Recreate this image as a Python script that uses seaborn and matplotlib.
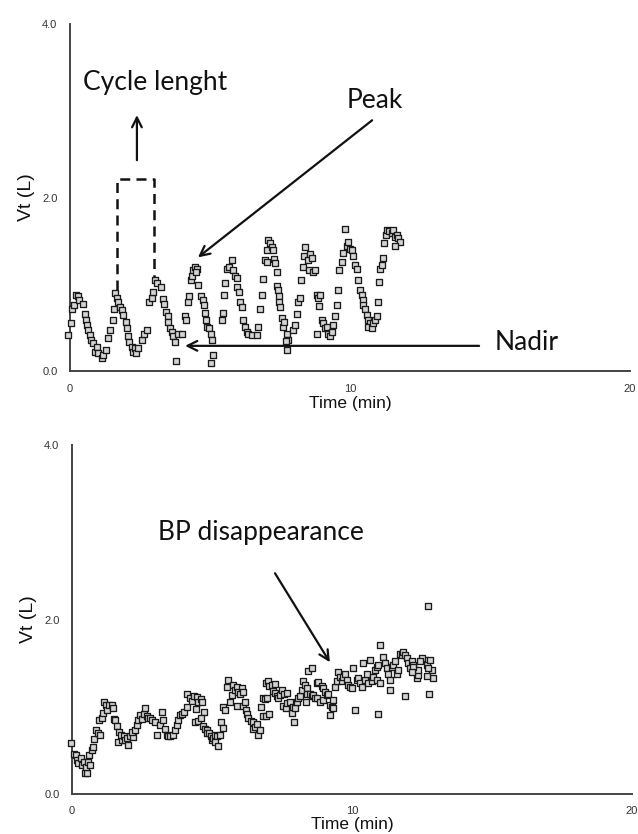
import matplotlib
matplotlib.use("Agg")
import matplotlib.pyplot as plt
import seaborn as sns
import pandas as pd

# tidal volume, periodic breathing (top)
top_t = [-0.06, 0.02, 0.06, 0.14, 0.21, 0.29, 0.32, 0.45, 0.54, 0.57, 0.62, 0.65, 0.71, 0.74, 0.83, 0.89,
         0.98, 1.00, 1.13, 1.19, 1.29, 1.37, 1.43, 1.52, 1.57, 1.61, 1.69, 1.73, 1.79, 1.85, 1.90, 2.00,
         2.02, 2.08, 2.12, 2.20, 2.26, 2.32, 2.36, 2.44, 2.56, 2.64, 2.76, 2.83, 2.92, 2.98, 3.04, 3.12,
         3.25, 3.31, 3.37, 3.43, 3.49, 3.51, 3.57, 3.63, 3.69, 3.75, 3.79, 3.87, 3.99,
         4.11, 4.14, 4.23, 4.26, 4.32, 4.35, 4.38, 4.46, 4.52, 4.50, 4.58, 4.67, 4.74, 4.79, 4.82, 4.86,
         4.90, 4.98, 5.02, 5.06, 5.12, 5.02,
         5.42, 5.45, 5.50, 5.54, 5.60, 5.69, 5.77, 5.83, 5.89, 5.95, 5.98, 6.05, 6.07, 6.13, 6.17, 6.25,
         6.31, 6.37, 6.49, 6.67, 6.73,
         6.79, 6.85, 6.90, 6.96, 7.02, 7.05, 7.08, 7.14, 7.20, 7.26, 7.30, 7.32, 7.38, 7.40, 7.43, 7.46,
         7.48, 7.50, 7.56, 7.62, 7.64, 7.74, 7.80, 7.71, 7.76,
         7.95, 8.04, 8.10, 8.15, 8.20, 8.24, 8.31, 8.36, 8.39, 8.51, 8.57, 8.63, 8.55, 8.69, 8.75, 8.81,
         8.87, 8.93, 8.90, 8.81, 8.99, 9.05, 9.11, 9.17, 9.23, 9.29, 9.35, 9.40, 9.46, 9.52, 9.56,
         9.62, 9.70, 9.76, 9.82, 9.88, 9.94, 10.00, 10.06, 10.12, 10.18, 10.24, 10.30, 10.36, 10.42, 10.45,
         10.48, 10.54, 10.60, 10.65, 10.71, 10.65, 10.77, 10.83, 10.89, 10.95, 11.01, 11.05, 11.07, 11.13,
         11.17, 11.21, 11.29, 11.33, 11.40, 11.49, 11.55, 11.61, 11.67, 11.73, 11.79, 11.60]
top_v = [0.42, 0.55, 0.72, 0.76, 0.88, 0.86, 0.82, 0.77, 0.66, 0.59, 0.53, 0.47, 0.41, 0.36, 0.32, 0.22,
         0.28, 0.21, 0.15, 0.19, 0.24, 0.38, 0.47, 0.59, 0.72, 0.90, 0.84, 0.80, 0.74, 0.70, 0.64, 0.56,
         0.49, 0.40, 0.34, 0.28, 0.22, 0.26, 0.21, 0.26, 0.36, 0.43, 0.47, 0.80, 0.84, 0.91, 1.05, 1.01,
         0.97, 0.83, 0.77, 0.68, 0.63, 0.57, 0.49, 0.45, 0.40, 0.34, 0.11, 0.43, 0.43,
         0.63, 0.59, 0.80, 0.87, 1.05, 1.10, 1.16, 1.20, 1.18, 1.14, 0.99, 0.87, 0.82, 0.76, 0.67, 0.59,
         0.51, 0.49, 0.43, 0.36, 0.18, 0.09,
         0.59, 0.67, 0.88, 1.01, 1.18, 1.20, 1.28, 1.16, 1.09, 1.07, 0.97, 0.91, 0.80, 0.74, 0.59, 0.51,
         0.45, 0.43, 0.41, 0.41, 0.51,
         0.72, 0.88, 1.06, 1.28, 1.26, 1.39, 1.51, 1.47, 1.43, 1.39, 1.29, 1.25, 1.14, 0.98, 0.93, 0.86,
         0.80, 0.74, 0.61, 0.51, 0.57, 0.43, 0.36, 0.35, 0.24,
         0.47, 0.53, 0.66, 0.80, 0.84, 1.05, 1.20, 1.32, 1.43, 1.28, 1.35, 1.30, 1.16, 1.14, 1.16, 0.88,
         0.84, 0.88, 0.75, 0.43, 0.59, 0.55, 0.49, 0.51, 0.43, 0.40, 0.45, 0.53, 0.63, 0.76, 0.93,
         1.16, 1.26, 1.36, 1.64, 1.44, 1.49, 1.41, 1.39, 1.32, 1.22, 1.18, 1.05, 0.93, 0.88, 0.82,
         0.76, 0.72, 0.65, 0.59, 0.55, 0.51, 0.49, 0.55, 0.59, 0.63, 0.80, 1.03, 1.18, 1.22,
         1.30, 1.47, 1.57, 1.63, 1.61, 1.59, 1.63, 1.55, 1.57, 1.53, 1.49, 1.44]

# tidal volume after BP disappearance (bottom)
bot_t = [-0.05, 0.07, 0.14, 0.19, 0.23, 0.31, 0.35, 0.43, 0.46, 0.55, 0.50, 0.58, 0.64, 0.62, 0.70, 0.76,
         0.79, 0.86, 0.94, 1.00, 0.98, 1.06, 1.10, 1.14, 1.21, 1.26, 1.33, 1.42, 1.48, 1.50, 1.54, 1.62,
         1.69, 1.65, 1.77, 1.74, 1.86, 1.89, 1.95, 2.01, 2.07, 2.17, 2.13, 2.25, 2.31, 2.37, 2.43, 2.49,
         2.57, 2.61, 2.67, 2.73, 2.79, 2.85, 2.96, 3.05, 3.14, 3.20, 3.26, 3.32, 3.38, 3.44, 3.50, 3.62,
         3.68, 3.74, 3.80, 3.86, 3.92, 4.00, 4.10, 4.12,
         4.21, 4.27, 4.36, 4.45, 4.51, 4.60, 4.63, 4.43, 4.71, 4.39, 4.51, 4.60, 4.67, 4.75, 4.81, 4.83,
         4.90, 4.95, 4.99, 5.05, 5.11, 5.17, 5.29, 5.11, 5.23, 5.31, 5.38, 5.38, 5.46, 5.52, 5.58, 5.64,
         5.70, 5.76, 5.82, 5.88, 5.94, 6.06, 6.00, 6.10, 5.88, 6.12, 6.18, 6.21, 6.26, 6.30, 6.38, 6.45,
         6.48, 6.54, 6.62, 6.65, 6.71, 6.74, 6.81, 6.89, 6.98, 6.81, 6.93, 7.05, 6.93, 7.01, 7.05, 7.13,
         7.25, 7.19, 7.25, 7.31, 7.37, 7.43, 7.49, 7.57, 7.67, 7.55, 7.64, 7.69, 7.79, 7.85, 7.88, 7.96,
         7.93, 8.02, 8.08, 8.14, 8.20, 8.26, 8.32, 8.38, 8.40, 8.36, 8.44,
         8.50, 8.56, 8.62, 8.68, 8.74, 8.56, 8.74, 8.80, 8.92, 8.98, 8.86, 8.98, 9.04, 9.10, 9.15, 9.21,
         9.27, 9.33, 9.21, 9.31, 9.39, 9.45, 9.51, 9.57, 9.63, 9.69, 9.75, 9.81, 9.87, 9.93, 9.99, 10.05,
         10.11, 10.17, 10.23, 10.29, 10.35, 10.40, 10.46, 10.52, 10.58, 10.64, 10.70, 10.76, 10.82, 10.88,
         10.94, 11.00, 10.90, 11.00, 10.94, 11.12, 11.18, 11.24, 11.30, 11.36, 11.36, 11.42, 11.48, 11.54,
         11.60, 11.65, 11.71, 11.77, 11.83, 11.89, 11.95, 11.89, 12.01, 12.07, 12.13, 12.19, 12.25, 12.31,
         12.37, 12.73, 12.85, 12.90, 12.76, 12.61, 12.49, 12.43, 12.37, 12.19, 12.13, 12.67, 12.79, 12.73,
         12.67]
bot_v = [0.58, 0.46, 0.45, 0.39, 0.35, 0.41, 0.33, 0.37, 0.24, 0.24, 0.31, 0.37, 0.33, 0.45, 0.50, 0.54,
         0.63, 0.73, 0.70, 0.68, 0.85, 0.87, 0.93, 1.06, 1.02, 0.96, 1.02, 1.02, 0.98, 0.86, 0.85, 0.78,
         0.71, 0.60, 0.62, 0.68, 0.66, 0.62, 0.64, 0.56, 0.66, 0.65, 0.71, 0.73, 0.79, 0.85, 0.91, 0.86,
         0.92, 0.98, 0.89, 0.87, 0.87, 0.85, 0.83, 0.68, 0.79, 0.94, 0.85, 0.75, 0.68, 0.66, 0.66, 0.68,
         0.73, 0.79, 0.85, 0.91, 0.92, 0.94, 1.00, 1.15,
         1.10, 1.07, 1.12, 1.11, 1.06, 1.09, 1.06, 0.97, 0.94, 0.83, 0.84, 0.87, 0.78, 0.75, 0.73, 0.70,
         0.70, 0.66, 0.62, 0.64, 0.68, 0.66, 0.68, 0.60, 0.55, 0.83, 0.76, 1.00, 0.96, 1.23, 1.31, 1.06,
         1.13, 1.25, 1.19, 1.23, 1.17, 1.21, 1.15, 1.17, 1.01, 1.01, 1.05, 0.96, 0.92, 0.87, 0.84, 0.83,
         0.75, 0.77, 0.80, 0.68, 0.73, 1.00, 1.10, 1.09, 1.10, 0.89, 0.89, 0.92, 1.27, 1.29, 1.24, 1.25,
         1.26, 1.18, 1.16, 1.12, 1.10, 1.13, 1.19, 1.15, 1.16, 1.01, 0.98, 1.04, 1.06, 0.93, 1.00, 0.98,
         0.83, 1.06, 1.10, 1.12, 1.19, 1.29, 1.25, 1.21, 1.15, 1.06, 1.41,
         1.15, 1.12, 1.13, 1.10, 1.10, 1.44, 1.27, 1.28, 1.24, 1.22, 1.06, 1.08, 1.17, 1.13, 1.15, 1.02,
         1.00, 0.98, 0.90, 1.08, 1.23, 1.29, 1.40, 1.34, 1.29, 1.34, 1.38, 1.31, 1.25, 1.23, 1.21, 1.44,
         0.96, 1.31, 1.33, 1.27, 1.23, 1.50, 1.31, 1.38, 1.27, 1.54, 1.29, 1.34, 1.42, 1.46,
         1.48, 1.71, 1.31, 1.27, 0.92, 1.57, 1.50, 1.44, 1.38, 1.31, 1.19, 1.46, 1.48, 1.52,
         1.38, 1.42, 1.61, 1.59, 1.63, 1.59, 1.56, 1.12, 1.50, 1.44, 1.52, 1.48, 1.42, 1.33,
         1.36, 2.15, 1.42, 1.33, 1.15, 1.54, 1.56, 1.52, 1.42, 1.46, 1.40, 1.48, 1.54, 1.44,
         1.35]

x_ticks = [0, 5, 10, 15, 20]
x_labels = ["0", "", "10", "", "20"]
y_ticks = [0, 1, 2, 3, 4]
y_labels = ["0.0", "", "2.0", "", "4.0"]

sns.set_style("white")
plt.rcParams['font.family'] = ['Liberation Sans', 'DejaVu Sans']
note_font = ['Lato', 'DejaVu Sans']

fig = plt.figure(figsize=(6.38, 8.34), dpi=100)
ax1 = fig.add_axes([70/638, 463/834, 560/638, 347/834])
ax2 = fig.add_axes([72/638, 40/834, 560/638, 349/834])

top_df = pd.DataFrame({'t': top_t, 'v': top_v})
bot_df = pd.DataFrame({'t': bot_t, 'v': bot_v})

for ax, df, lp in [(ax1, top_df, 2), (ax2, bot_df, 0)]:
    sns.scatterplot(data=df, x='t', y='v', ax=ax, marker='s', s=16,
                    facecolor='#d4d4d4', edgecolor='#1a1a1a', linewidth=0.95,
                    clip_on=False, zorder=3)
    ax.set_xlim(0, 20)
    ax.set_ylim(0, 4)
    ax.set_xticks(x_ticks)
    ax.set_xticklabels(x_labels)
    ax.set_yticks(y_ticks)
    ax.set_yticklabels(y_labels)
    for s in ['top', 'right']:
        ax.spines[s].set_visible(False)
    for s in ['left', 'bottom']:
        ax.spines[s].set_color('#444444')
        ax.spines[s].set_linewidth(1.4)
    ax.tick_params(direction='inout', length=8, width=1.2, color='#444444',
                   labelsize=8, labelcolor='#333333', pad=5)
    ax.set_xlabel('Time (min)', fontsize=12.5, color='#111111', labelpad=lp)
    ax.set_ylabel('Vt (L)', fontsize=14, color='#111111', labelpad=5)
    ax.set_facecolor('white')

arrow = dict(arrowstyle='->,head_length=0.7,head_width=0.35', color='#111111', lw=1.6,
             shrinkA=0, shrinkB=0)

# top annotations
ax1.text(0.46, 3.32, 'Cycle lenght', family=note_font, fontsize=19, ha='left', va='center', color='#111111')
ax1.annotate('', xy=(2.39, 2.95), xytext=(2.39, 2.43), arrowprops=arrow)
ax1.plot([1.68, 1.68, 3.0, 3.0], [0.93, 2.21, 2.21, 1.01], color='#111111', lw=1.8,
         linestyle=(0, (4, 2.5)), zorder=2)
ax1.text(10.89, 3.12, 'Peak', family=note_font, fontsize=19, ha='center', va='center', color='#111111')
ax1.annotate('', xy=(4.57, 1.31), xytext=(10.79, 2.89), arrowprops=arrow)
ax1.text(15.18, 0.33, 'Nadir', family=note_font, fontsize=19, ha='left', va='center', color='#111111')
ax1.annotate('', xy=(4.11, 0.29), xytext=(14.61, 0.29), arrowprops=arrow)

# bottom annotations
ax2.text(3.07, 3.0, 'BP disappearance', family=note_font, fontsize=19, ha='left', va='center', color='#111111')
ax2.annotate('', xy=(9.21, 1.51), xytext=(7.25, 2.53), arrowprops=arrow)

fig.savefig('out.png', dpi=100, facecolor='white')
